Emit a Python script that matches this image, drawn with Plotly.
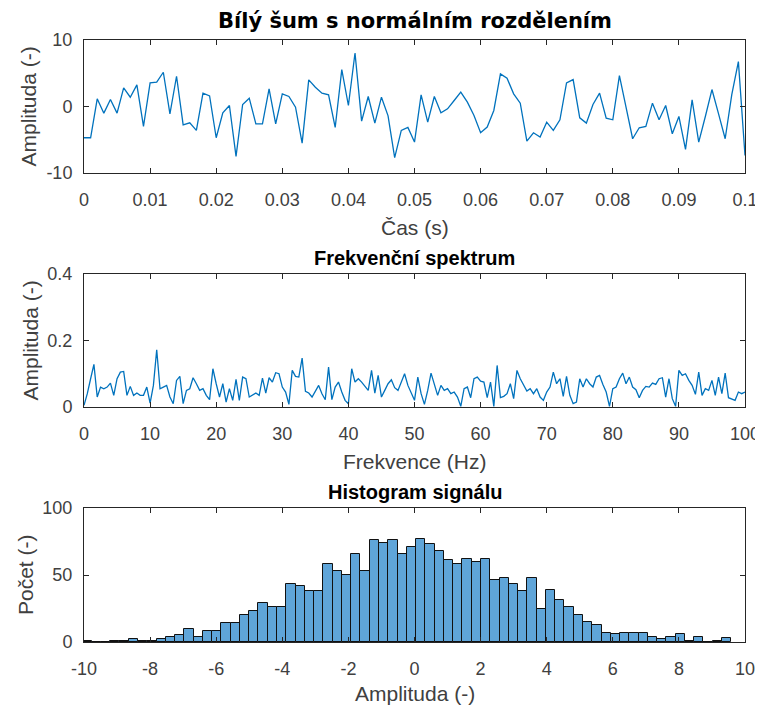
import numpy as np
import plotly.graph_objects as go

# ---------------- data ----------------
fs = 1000  # Hz
signal_vals = [
    -4.7, -4.7, 1.15, -1.0, 1.05, -1.0, 2.8, 1.4, 3.25, -3.0,
    3.55, 3.65, 5.15, -1.1, 4.55, -2.75, -2.45, -3.6, 2.0, 1.6,
    -4.7, -0.95, 0.15, -7.5, 0.3, 1.25, -2.6, -2.6, 2.65, -2.6,
    1.9, 1.5, -0.1, -5.5, 4.0, 2.9, 2.0, 1.75, -3.15, 5.55,
    0.15, 8.05, -2.2, 1.5, -2.5, 1.4, -1.4, -7.7, -3.6, -3.15,
    -5.35, 1.75, -2.35, 1.5, -0.95, -0.35, 0.9, 2.15, 0.65, -1.35,
    -3.95, -3.1, -0.6, 4.9, 4.25, 1.9, 0.5, -5.2, -3.95, -4.6,
    -2.35, -3.6, -2.0, 3.55, 4.05, -1.7, -2.5, 0.3, 2.0, -1.75,
    -2.0, 4.65, -0.1, -4.85, -3.2, -3.0, 0.5, -2.0, 0.15, -4.1,
    -1.5, -6.45, 1.0, -5.35, -1.5, 2.55, -1.1, -4.85, 1.8, 6.75,
    -7.35,
]
time_s = [i / fs for i in range(len(signal_vals))]

freq_step = 0.5  # Hz
spectrum_vals = [
    0.005, 0.04, 0.085, 0.128, 0.03, 0.06, 0.055, 0.06, 0.072, 0.035,
    0.085, 0.105, 0.107, 0.035, 0.062, 0.035, 0.042, 0.035, 0.035, 0.06,
    0.012, 0.065, 0.172, 0.055, 0.06, 0.065, 0.03, 0.01, 0.08, 0.092,
    0.01, 0.05, 0.055, 0.088, 0.07, 0.05, 0.055, 0.035, 0.022, 0.115,
    0.07, 0.03, 0.07, 0.015, 0.055, 0.02, 0.083, 0.02, 0.09, 0.085,
    0.03, 0.035, 0.042, 0.035, 0.087, 0.042, 0.088, 0.075, 0.103, 0.1,
    0.06, 0.045, 0.008, 0.11, 0.092, 0.09, 0.147, 0.047, 0.042, 0.03,
    0.05, 0.065, 0.04, 0.022, 0.12, 0.022, 0.06, 0.075, 0.045, 0.02,
    0.01, 0.115, 0.075, 0.085, 0.075, 0.062, 0.05, 0.11, 0.042, 0.095,
    0.03, 0.05, 0.07, 0.082, 0.058, 0.05, 0.078, 0.1, 0.065, 0.04,
    0.02,
    0.09, 0.04, 0.008, 0.05, 0.102, 0.07, 0.035, 0.065, 0.05, 0.055,
    0.04, 0.045, 0.03, 0.002, 0.055, 0.06, 0.028, 0.085, 0.09, 0.078,
    0.075, 0.028, 0.075, 0.002, 0.125, 0.028, 0.032, 0.04, 0.07, 0.025,
    0.11, 0.085, 0.065, 0.048, 0.055, 0.04, 0.055, 0.03, 0.02, 0.045,
    0.06, 0.105, 0.07, 0.085, 0.032, 0.092, 0.035, 0.01, 0.015, 0.085,
    0.06, 0.085, 0.07, 0.06, 0.09, 0.095, 0.068, 0.045, 0.002, 0.055,
    0.06, 0.085, 0.102, 0.07, 0.09, 0.06, 0.052, 0.028, 0.05, 0.062,
    0.06, 0.072, 0.068, 0.085, 0.088, 0.03, 0.085, 0.025, 0.002, 0.11,
    0.095, 0.1, 0.08, 0.065, 0.038, 0.105, 0.035, 0.055, 0.05, 0.08,
    0.035, 0.09, 0.04, 0.102, 0.028, 0.025, 0.02, 0.045, 0.04, 0.045,
]
freq_hz = [i * freq_step for i in range(len(spectrum_vals))]

hist_start = -10.05
hist_width = 0.2805
hist_counts = [
    1, 0, 0, 1, 1, 2, 1, 1, 2, 4,
    5, 10, 4, 8, 8, 14, 14, 20, 23, 29,
    26, 26, 43, 42, 38, 38, 58, 53, 50, 66,
    53, 76, 74, 76, 66, 71, 77, 73, 68, 61,
    58, 62, 60, 62, 46, 48, 43, 38, 48, 25,
    39, 31, 26, 20, 15, 13, 7, 6, 7, 7,
    7, 4, 2, 4, 6, 1, 4, 0, 1, 3,
]
hist_centers = [hist_start + hist_width * (i + 0.5) for i in range(len(hist_counts))]

t_ticks = [0, 0.01, 0.02, 0.03, 0.04, 0.05, 0.06, 0.07, 0.08, 0.09, 0.1]
t_ticktext = ["0", "0.01", "0.02", "0.03", "0.04", "0.05", "0.06", "0.07", "0.08", "0.09", "0.1"]
f_ticks = [0, 10, 20, 30, 40, 50, 60, 70, 80, 90, 100]
h_ticks = [-10, -8, -6, -4, -2, 0, 2, 4, 6, 8, 10]
h_ticktext = ["-10", "-8", "-6", "-4", "-2", "0", "2", "4", "6", "8", "10"]
amp_ticks = [-10, 0, 10]
amp_ticktext = ["-10", "0", "10"]

# ---------------- figure ----------------
OFF = 8  # page body margin of the html page
W, H = 763 - OFF, 706 - OFF
L, R, T, B = 84 - OFF, 18, 40 - OFF, 64
PW, PH = W - L - R, H - T - B

def py(p):  # page pixel y -> paper y
    return (H - B - (p - OFF)) / PH

def px(p):  # page pixel x -> paper x
    return (p - OFF - L) / PW

line_col = "#0072BD"
axis_col = "#262626"
tick_font = dict(family="Liberation Sans, Arial, sans-serif", size=18, color="#404040")

fig = go.Figure()
fig.add_trace(go.Scatter(x=time_s, y=signal_vals, mode="lines",
                         line=dict(color=line_col, width=1.3), xaxis="x", yaxis="y"))
fig.add_trace(go.Scatter(x=freq_hz, y=spectrum_vals, mode="lines",
                         line=dict(color=line_col, width=1.3), xaxis="x2", yaxis="y2"))
fig.add_trace(go.Bar(x=hist_centers, y=hist_counts, width=hist_width,
                     marker=dict(color="#5fa5d9", line=dict(color="#111111", width=1)),
                     xaxis="x3", yaxis="y3"))

common = dict(showline=True, linecolor=axis_col, linewidth=1, mirror="ticks",
              ticks="inside", ticklen=5, tickcolor=axis_col, showgrid=False,
              zeroline=False, tickfont=tick_font, automargin=False)
xstand, ystand = 10, 7

fig.update_layout(
    width=W, height=H,
    margin=dict(l=L, r=R, t=T, b=B, autoexpand=False),
    paper_bgcolor="white", plot_bgcolor="white",
    showlegend=False, bargap=0,
    xaxis=dict(domain=[0, 1], anchor="y", range=[0, 0.1], tickvals=t_ticks,
               ticktext=t_ticktext, ticklabelstandoff=xstand, **common),
    yaxis=dict(domain=[py(173), py(40)], anchor="x", range=[-10, 10],
               tickvals=amp_ticks, ticktext=amp_ticktext, ticklabelstandoff=ystand, **common),
    xaxis2=dict(domain=[0, 1], anchor="y2", range=[0, 100], tickvals=f_ticks,
                ticklabelstandoff=xstand, **common),
    yaxis2=dict(domain=[py(407), py(274)], anchor="x2", range=[0, 0.4],
                tickvals=[0, 0.2, 0.4], ticktext=["0", "0.2", "0.4"],
                ticklabelstandoff=ystand, **common),
    xaxis3=dict(domain=[0, 1], anchor="y3", range=[-10, 10], tickvals=h_ticks,
                ticktext=h_ticktext, ticklabelstandoff=xstand, **common),
    yaxis3=dict(domain=[py(642), py(508)], anchor="x3", range=[0, 100],
                tickvals=[0, 50, 100], ticklabelstandoff=ystand, **common),
)

title_font_main = dict(family="DejaVu Sans, sans-serif", size=21, color="black")
title_font = dict(family="Liberation Sans, Arial, sans-serif", size=20, color="black")
label_font = dict(family="Liberation Sans, Arial, sans-serif", size=21, color="#404040")

ann = [
    dict(text="<b>Bílý šum s normálním rozdělením</b>", x=0.5, y=py(21), font=title_font_main),
    dict(text="<b>Frekvenční spektrum</b>", x=0.5, y=py(258), font=title_font),
    dict(text="<b>Histogram signálu</b>", x=0.5, y=py(492), font=title_font),
    dict(text="Čas (s)", x=0.5, y=py(227), font=label_font),
    dict(text="Frekvence (Hz)", x=0.5, y=py(461), font=label_font),
    dict(text="Amplituda (-)", x=0.5, y=py(693), font=label_font),
    dict(text="Amplituda (-)", x=px(28), y=py(106.5), font=label_font, textangle=-90),
    dict(text="Amplituda (-)", x=px(30), y=py(340.5), font=label_font, textangle=-90),
    dict(text="Počet (-)", x=px(25), y=py(575), font=label_font, textangle=-90),
]
for a in ann:
    fig.add_annotation(xref="paper", yref="paper", showarrow=False,
                       xanchor="center", yanchor="middle", **a)

fig.write_html("out.html")
